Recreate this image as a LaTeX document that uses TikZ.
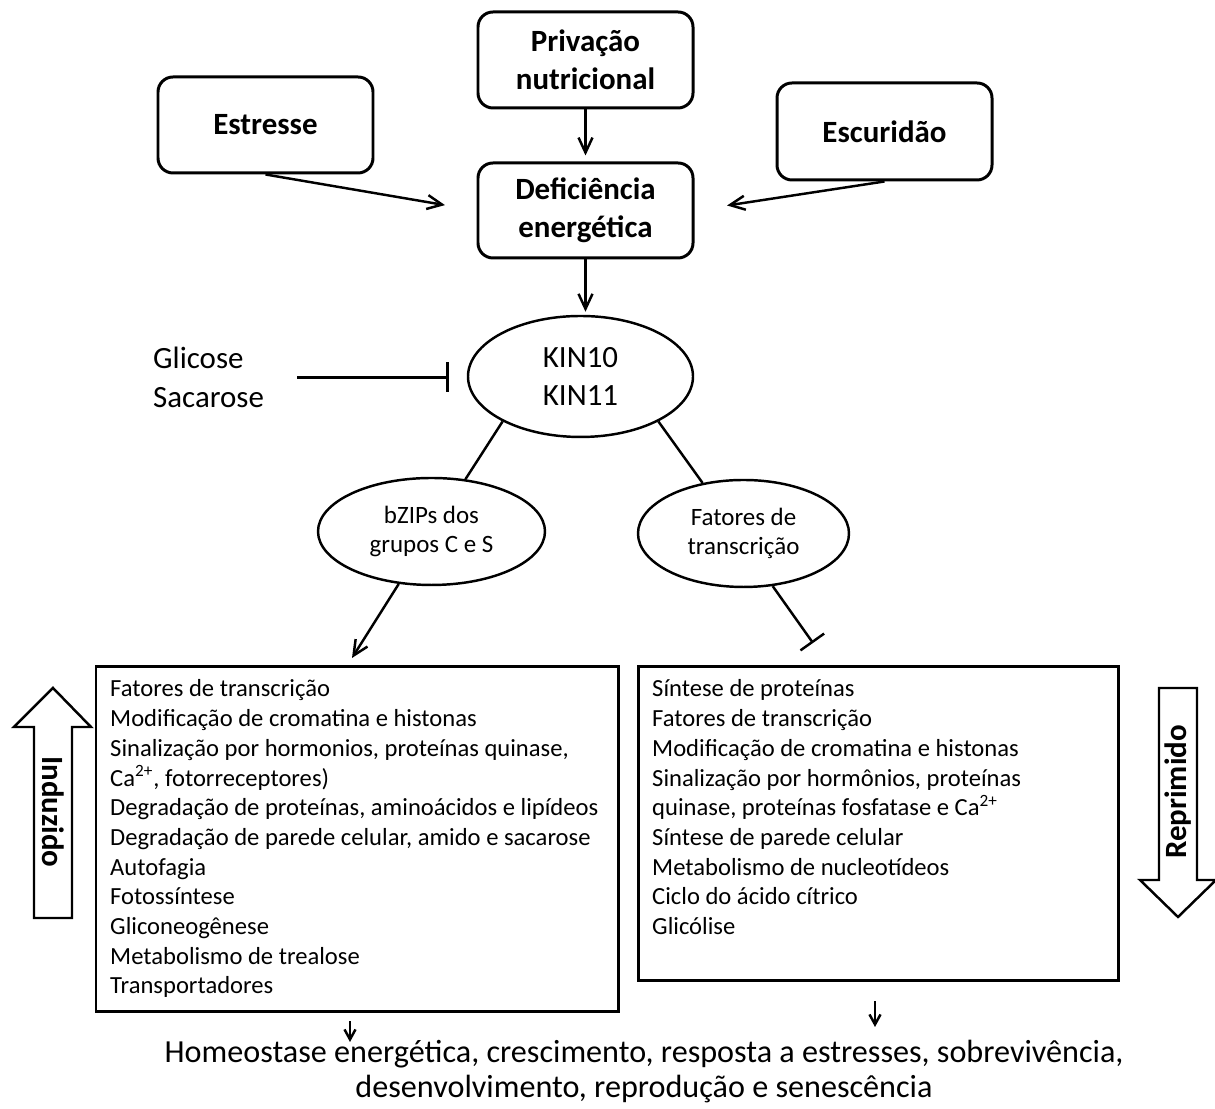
\documentclass[tikz,border=0pt]{standalone}
\usepackage{fontspec}
\setmainfont{Carlito}
\usepackage{tikz}
\usetikzlibrary{positioning, arrows.meta, shapes.geometric}

\begin{document}
\begin{tikzpicture}[->, >={Straight Barb[length=3mm, width=2.8mm]}, line width=1.4pt,
    box/.style={draw, rounded corners=0.3cm, line width=1.7pt, minimum width=4.3cm, minimum height=1.92cm, align=center, font=\fontsize{17.6}{21.6}\selectfont\bfseries},
    oval/.style={draw, ellipse, line width=1.4pt, align=center, inner sep=0pt},
    listbox/.style={draw, rectangle, line width=1.7pt},
    entry/.style={anchor=base west, inner sep=0pt, font=\fontsize{14}{16.9}\selectfont},
    inhib/.style={-{Bar[width=6mm]}},
    outarr/.style={->, >={Straight Barb[length=2mm, width=2.2mm]}},
    bigarrow/.style={draw, line width=1.4pt, -}]
    \useasboundingbox (0,0) rectangle (24.3,22.18);

    \node[box] (priv) at (11.71,20.98) {Privação\\nutricional};
    \node[box] (estr) at (5.31,19.68) {Estresse};
    \node[box, minimum height=1.94cm] (escu) at (17.69,19.55) {Escuridão};
    \node[box, minimum height=1.9cm] (defi) at (11.71,17.97) {Deficiência\\energética};
    \node[oval, minimum width=4.5cm, minimum height=2.42cm, font=\fontsize{17.6}{22}\selectfont] (kin) at (11.61,14.65) {KIN10\\KIN11};
    \node[anchor=west, align=left, inner sep=0pt, font=\fontsize{17.6}{22}\selectfont] (glic) at (3.04,14.63) {Glicose\\Sacarose};
    \node[oval, minimum width=4.54cm, minimum height=2.14cm, font=\fontsize{14.2}{17}\selectfont] (bzip) at (8.63,11.55) {bZIPs dos\\grupos C e S};
    \node[oval, minimum width=4.22cm, minimum height=2.14cm, font=\fontsize{14.2}{17}\selectfont] (fat) at (14.87,11.51) {Fatores de\\transcrição};

    \draw[shorten >=0.12cm] (priv) -- (defi);
    \draw[shorten >=0.64cm] (estr.south) -- (defi.west);
    \draw[shorten >=0.66cm] (escu.south) -- (defi.east);
    \draw[shorten >=0.06cm] (defi.south) -- (defi.south |- kin.north);
    \draw[inhib, shorten <=0.64cm, shorten >=0.36cm] (glic.east) -- (glic.east -| kin.west);
    \draw[-] (kin.210) -- (bzip.57);
    \draw[-] (kin.330) -- (fat.129);

    % caixas de genes
    \node[listbox, minimum width=10.44cm, minimum height=6.9cm] (indbox) at (7.14,5.39) {};
    \node[listbox, minimum width=9.6cm, minimum height=6.28cm] (repbox) at (17.56,5.70) {};
    \coordinate (indtop) at (7.04,9.02);
    \coordinate (reptop) at (16.26,9.32);
    \draw (bzip.238) -- (indtop);
    \draw[-{Bar[width=5.8mm]}] (fat.299) -- (reptop);

    \foreach \txt [count=\i from 0] in {Fatores de transcrição, Modificação de cromatina e histonas,
        {Sinalização por hormonios, proteínas quinase,}, {Ca\textsuperscript{2+}, fotorreceptores)},
        {Degradação de proteínas, aminoácidos e lipídeos}, {Degradação de parede celular, amido e sacarose},
        Autofagia, Fotossíntese, Gliconeogênese, Metabolismo de trealose, Transportadores}
      \node[entry] (ind\i) at (2.18,8.24-0.594*\i) {\txt};
    \foreach \txt [count=\i from 0] in {Síntese de proteínas, Fatores de transcrição,
        Modificação de cromatina e histonas, {Sinalização por hormônios, proteínas},
        {quinase, proteínas fosfatase e Ca\textsuperscript{2+}}, Síntese de parede celular,
        Metabolismo de nucleotídeos, Ciclo do ácido cítrico, Glicólise}
      \node[entry] (rep\i) at (13.02,8.24-0.594*\i) {\txt};

    % setas largas
    \draw[bigarrow] (0.68,3.82) -- (1.44,3.82) -- (1.44,7.64) -- (1.82,7.64) -- (1.06,8.42) -- (0.28,7.64) -- (0.68,7.64) -- cycle;
    \node[rotate=-90, font=\fontsize{17.6}{20}\selectfont\bfseries] (indlbl) at (1.06,5.94) {Induzido};
    \draw[bigarrow] (23.18,8.42) -- (23.94,8.42) -- (23.94,4.58) -- (24.32,4.58) -- (23.56,3.84) -- (22.8,4.58) -- (23.18,4.58) -- cycle;
    \node[rotate=90, font=\fontsize{17.6}{20}\selectfont\bfseries] (replbl) at (23.56,6.34) {Reprimido};

    \node[anchor=north, align=center, font=\fontsize{18.3}{20}\selectfont] (outcome) at (12.88,1.52)
      {Homeostase energética, crescimento, resposta a estresses, sobrevivência,\\desenvolvimento, reprodução e senescência};
    \coordinate (indout) at (7.0,1.34);
    \coordinate (repout) at (17.5,1.64);
    \draw[outarr, shorten <=0.16cm] (indbox.south -| indout) -- (indout);
    \draw[outarr, shorten <=0.38cm] (repbox.south -| repout) -- (repout);
  \end{tikzpicture}
\end{document}
